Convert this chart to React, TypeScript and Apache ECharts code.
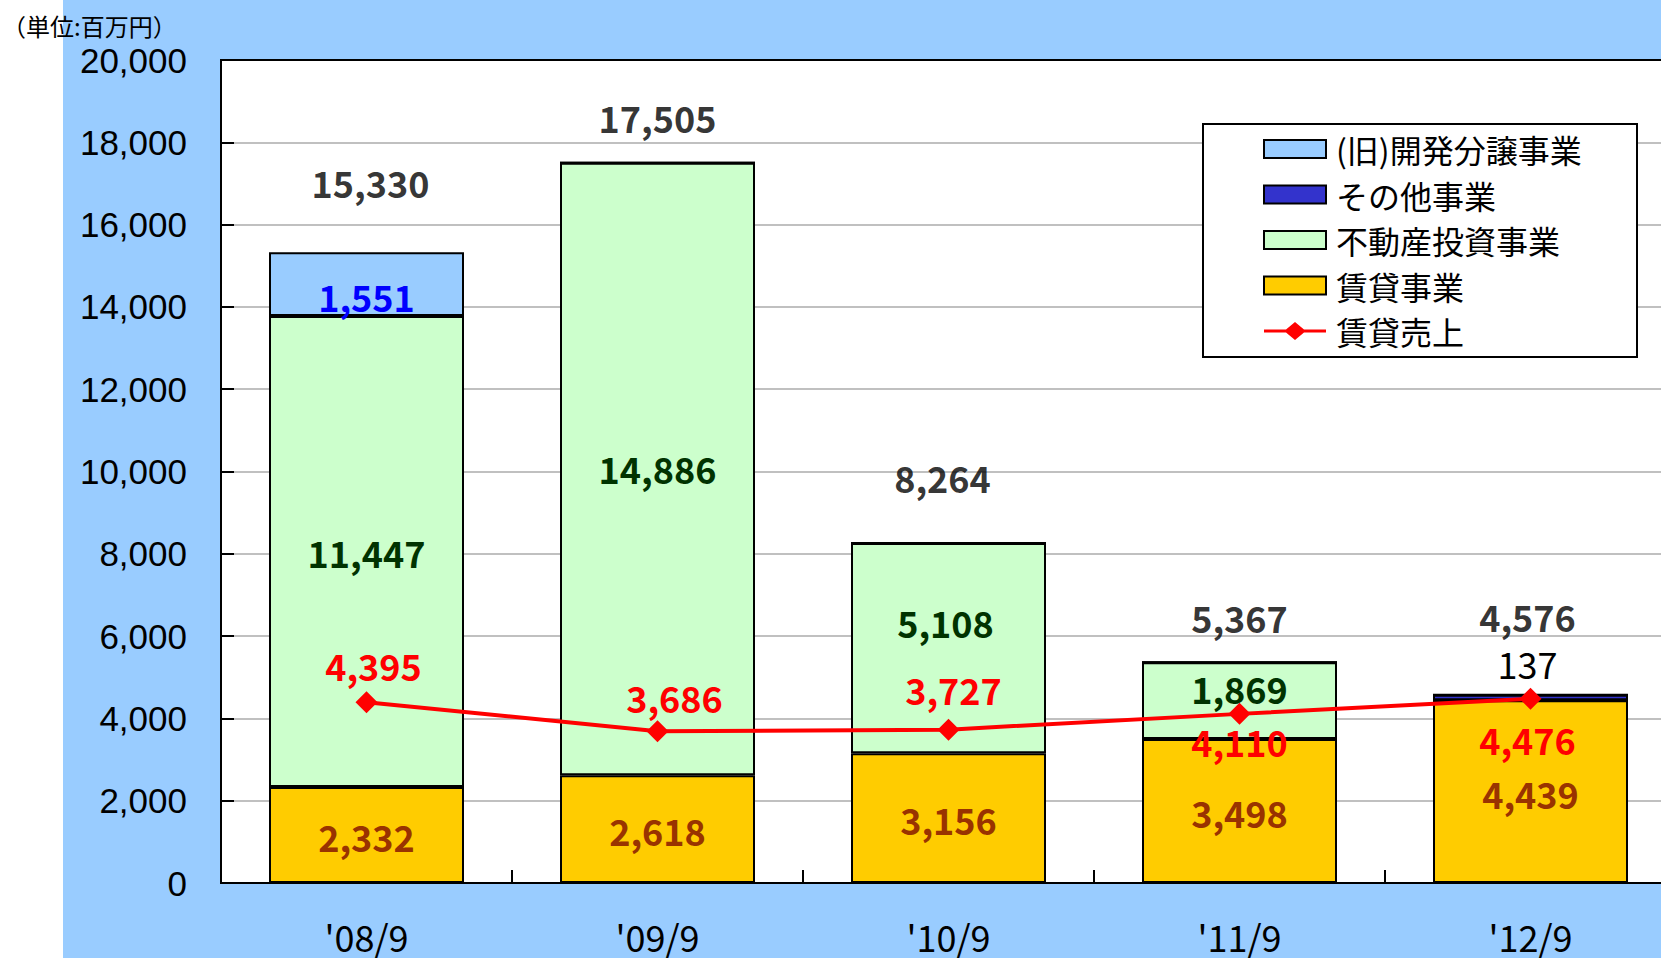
import React, { useEffect, useRef } from "react";
import * as echarts from "echarts";

// ---- data ----
const categories = ["'08/9", "'09/9", "'10/9", "'11/9", "'12/9"];
const rentBiz = [2332, 2618, 3156, 3498, 4439]; // 賃貸事業
const investBiz = [11447, 14886, 5108, 1869, 0]; // 不動産投資事業
const otherBiz = [0, 0, 0, 0, 137]; // その他事業
const devBiz = [1551, 0, 0, 0, 0]; // (旧)開発分譲事業
const rentSales = [4395, 3686, 3727, 4110, 4476]; // 賃貸売上
const totals = [15330, 17505, 8264, 5367, 4576];
const yMin = 0;
const yMax = 20000;
const yStep = 2000;

const NAME_DEV = "(旧)開発分譲事業";
const NAME_OTHER = "その他事業";
const NAME_INVEST = "不動産投資事業";
const NAME_RENT = "賃貸事業";
const NAME_SALES = "賃貸売上";
const UNIT = "（単位:百万円）";

const JP = '"Noto Sans CJK JP", "Noto Sans", sans-serif';

// label nudges (layout only)
const rentNudge = [[0, 1], [0, 1], [0, 1], [0, 1], [0, 1]];
const investNudge = [[0, 0], [0, -1], [-3, -26], [0, -13], [0, 0]];
const otherNudge = [[0, 0], [0, 0], [0, 0], [0, 0], [-3, -35]];
const devNudge = [[0, 12], [0, 0], [0, 0], [0, 0], [0, 0]];
const salesNudge = [[7, -37], [17, -34], [5, -41], [0, 27], [-3, 40]];
const totalNudge = [[4, -70], [0, -46], [-6, -66], [0, -45], [-3, -79]];

const fmt = (v: number) => Number(v).toLocaleString("en-US");

const W = 1676; // drawing is wider than the window: the plot runs past the right edge
const H = 958;

export default function App() {
  const ref = useRef<HTMLDivElement>(null);

  useEffect(() => {
    if (!ref.current) return;
    const chart = echarts.init(ref.current, undefined, { renderer: "svg" });

    const labelBase = {
      fontFamily: JP,
      fontSize: 36,
      lineHeight: 36,
      fontWeight: "bold" as const,
    };

    const barData = (vals: number[], nudge: number[][]) =>
      vals.map((v, i) => ({
        value: v,
        label: { show: v > 0, offset: nudge[i] },
      }));

    const barCommon = (color: string) => ({
      type: "bar" as const,
      stack: "total",
      barWidth: 195,
      itemStyle: { color, borderColor: "#000", borderWidth: 2 },
      emphasis: { disabled: true },
    });

    const option: any = {
      animation: false,
      backgroundColor: "#ffffff",
      graphic: [
        {
          type: "rect",
          z: -10,
          silent: true,
          shape: { x: 63, y: 0, width: W - 63, height: H },
          style: { fill: "#99CCFF" },
        },
        {
          type: "rect",
          z: 3,
          silent: true,
          shape: { x: 1203, y: 124, width: 434, height: 233 },
          style: { fill: "#ffffff", stroke: "#000000", lineWidth: 2 },
        },
        {
          type: "text",
          x: 2,
          y: 25,
          silent: true,
          style: {
            text: UNIT,
            fontFamily: JP,
            fontSize: 24,
            fill: "#000",
            verticalAlign: "middle",
          },
        },
      ],
      legend: {
        orient: "vertical",
        left: 1263,
        top: 131,
        padding: 0,
        itemWidth: 62,
        itemHeight: 18,
        itemGap: 9.5,
        symbolKeepAspect: false,
        z: 5,
        textStyle: {
          fontFamily: JP,
          fontSize: 32,
          lineHeight: 36,
          color: "#000",
          padding: [0, 0, 0, 5],
        },
        data: [
          { name: NAME_DEV, icon: "rect" },
          { name: NAME_OTHER, icon: "rect" },
          { name: NAME_INVEST, icon: "rect" },
          { name: NAME_RENT, icon: "rect" },
          {
            name: NAME_SALES,
            icon:
              "path://M0,7.5 L22,7.5 L31,0 L40,7.5 L62,7.5 L62,10.5 L40,10.5 L31,18 L22,10.5 L0,10.5 Z",
          },
        ],
      },
      grid: {
        left: 221,
        top: 60,
        width: W - 221,
        height: 823,
        show: true,
        backgroundColor: "#ffffff",
        borderColor: "#000000",
        borderWidth: 2,
      },
      xAxis: {
        type: "category",
        data: categories,
        boundaryGap: true,
        axisLine: { show: true, lineStyle: { color: "#000", width: 2 } },
        axisTick: {
          show: true,
          inside: true,
          length: 13,
          alignWithLabel: false,
          lineStyle: { color: "#000", width: 2 },
        },
        axisLabel: {
          margin: 35,
          color: "#000",
          fontFamily: JP,
          fontSize: 36,
          lineHeight: 36,
        },
        splitLine: { show: false },
      },
      yAxis: {
        type: "value",
        min: yMin,
        max: yMax,
        interval: yStep,
        axisLine: { show: true, lineStyle: { color: "#000", width: 2 } },
        axisTick: {
          show: true,
          inside: true,
          length: 13,
          lineStyle: { color: "#000", width: 2 },
        },
        axisLabel: {
          margin: 34,
          color: "#000",
          fontFamily: '"Liberation Sans", Arial, sans-serif',
          fontSize: 35,
          formatter: (v: number) => fmt(v),
        },
        splitLine: {
          show: true,
          showMinLine: false,
          showMaxLine: false,
          lineStyle: { color: "#C0C0C0", width: 2 },
        },
      },
      series: [
        {
          ...barCommon("#FFCC00"),
          name: NAME_RENT,
          data: barData(rentBiz, rentNudge),
          label: {
            show: true,
            position: "inside",
            color: "#993300",
            ...labelBase,
            formatter: (p: any) => fmt(p.value),
          },
        },
        {
          ...barCommon("#CCFFCC"),
          name: NAME_INVEST,
          data: barData(investBiz, investNudge),
          label: {
            show: true,
            position: "inside",
            color: "#003300",
            ...labelBase,
            formatter: (p: any) => fmt(p.value),
          },
        },
        {
          ...barCommon("#3333CC"),
          name: NAME_OTHER,
          data: barData(otherBiz, otherNudge),
          label: {
            show: true,
            position: "inside",
            color: "#000000",
            ...labelBase,
            fontWeight: "normal",
            formatter: (p: any) => fmt(p.value),
          },
        },
        {
          ...barCommon("#99CCFF"),
          name: NAME_DEV,
          data: barData(devBiz, devNudge),
          label: {
            show: true,
            position: "inside",
            color: "#0000FF",
            ...labelBase,
            formatter: (p: any) => fmt(p.value),
          },
        },
        {
          type: "line",
          name: NAME_SALES,
          z: 4,
          data: rentSales.map((v, i) => ({
            value: v,
            label: { offset: salesNudge[i] },
          })),
          symbol: "diamond",
          symbolSize: 22,
          lineStyle: { color: "#FF0000", width: 4 },
          itemStyle: { color: "#FF0000" },
          emphasis: { disabled: true },
          label: {
            show: true,
            position: "inside",
            color: "#FF0000",
            ...labelBase,
            formatter: (p: any) => fmt(p.value),
          },
        },
        {
          type: "scatter",
          name: "合計",
          z: 4,
          data: totals.map((v, i) => ({
            value: v,
            label: { offset: totalNudge[i] },
          })),
          symbolSize: 1,
          itemStyle: { color: "rgba(0,0,0,0)" },
          emphasis: { disabled: true },
          label: {
            show: true,
            position: "inside",
            color: "#000000",
            ...labelBase,
            formatter: (p: any) => fmt(p.value),
          },
        },
      ],
    };

    chart.setOption(option);
    return () => chart.dispose();
  }, []);

  return (
    <div
      ref={ref}
      style={{ position: "fixed", left: 0, top: 0, width: W, height: H }}
    />
  );
}
